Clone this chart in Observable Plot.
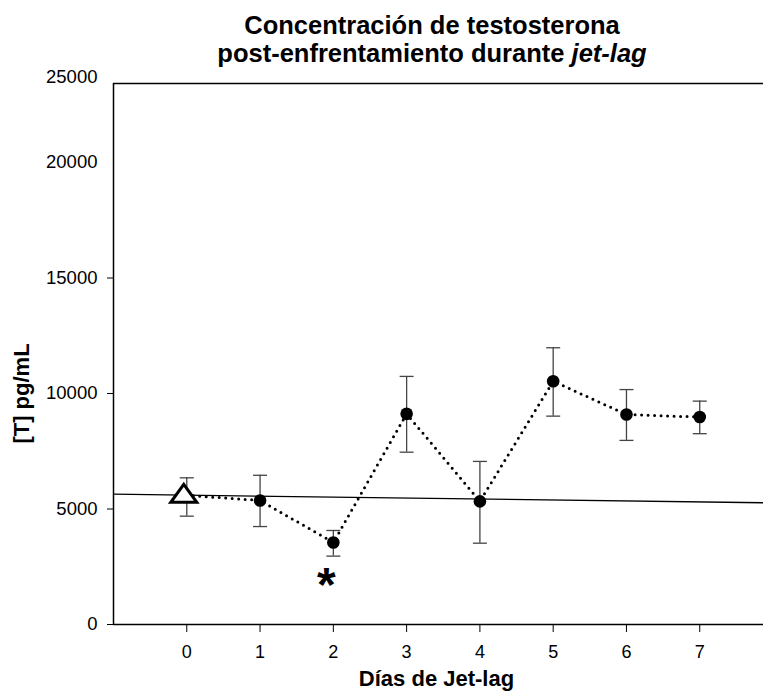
<!DOCTYPE html>
<html><head><meta charset="utf-8">
<script src="https://cdn.jsdelivr.net/npm/d3@7"></script>
<script src="https://cdn.jsdelivr.net/npm/@observablehq/plot@0.6"></script>
<style>
body{margin:0;background:#fff;overflow:hidden;font-family:"Liberation Sans",Arial,sans-serif}
#wrap{position:relative;width:763px;height:692px}
#title{position:absolute;left:97px;width:670px;top:11px;text-align:center;font-weight:bold;font-size:25.5px;line-height:28px;color:#000;z-index:2}
#chart{position:absolute;left:0;top:0}
#chart g[aria-label="y-axis tick label"]{font-size:18.5px !important}
#chart g[aria-label="x-axis tick label"]{font-size:18px !important}
</style></head><body>
<div id="wrap"><div id="title">Concentración de testosterona<br>post-enfrentamiento durante <i>jet-lag</i></div><div id="chart"></div></div>
<script>
const days = [0, 1, 2, 3, 4, 5, 6, 7];
const means = [5590, 5370, 3550, 9120, 5330, 10530, 9090, 8980];
const upper = [6350, 6460, 4070, 10740, 7060, 11980, 10170, 9670];
const lower = [4690, 4240, 2960, 7460, 3520, 9020, 7970, 8260];
const regX = [-1, 7.87];
const regY = [5640, 5270];
const xTicks = [0, 1, 2, 3, 4, 5, 6, 7];
const yTicks = [0, 5000, 10000, 15000];
const yExtraTickValues = [20000, 23700];
const yExtraTickLabels = ["20000", "25000"];
const sigDays = [2];
const sigValues = [1990];
const sigLabels = ["*"];
const xDomain = [-1, 7.87];
const yDomain = [0, 23420];
const yLabelAt = [{v: 10000, label: "[T] pg/mL"}];

const data = days.map((d, i) => ({day: d, mean: means[i], hi: upper[i], lo: lower[i]}));
const reg = regX.map((x, i) => ({x, y: regY[i]}));
const extra = yExtraTickValues.map((v, i) => ({v, label: yExtraTickLabels[i]}));
const sig = sigDays.map((d, i) => ({day: d, v: sigValues[i], label: sigLabels[i]}));

const capSymbol = {
  draw(ctx, size) {
    const r = Math.sqrt(size / Math.PI);
    ctx.moveTo(-r, 0);
    ctx.lineTo(r, 0);
  }
};
// wide open triangle, like the reference's control marker
const wideTriangle = {
  draw(ctx, size) {
    const r = Math.sqrt(size / Math.PI);
    ctx.moveTo(0, -1.1 * r);
    ctx.lineTo(1.3 * r, 0.7 * r);
    ctx.lineTo(-1.3 * r, 0.7 * r);
    ctx.closePath();
  }
};

const chart = Plot.plot({
  width: 763,
  height: 692,
  marginLeft: 113,
  marginRight: 0,
  marginTop: 83,
  marginBottom: 68,
  style: {fontFamily: "'Liberation Sans', Arial, sans-serif", fontSize: "18px", color: "#000", background: "transparent"},
  x: {domain: xDomain},
  y: {domain: yDomain},
  marks: [
    Plot.line(reg, {x: "x", y: "y", stroke: "#000", strokeWidth: 1.3}),
    Plot.ruleX(data, {x: "day", y1: "lo", y2: "hi", stroke: "#444", strokeWidth: 1.3}),
    Plot.dot(data, {x: "day", y: "hi", symbol: capSymbol, r: 7, stroke: "#444", strokeWidth: 1.3, fill: "none"}),
    Plot.dot(data, {x: "day", y: "lo", symbol: capSymbol, r: 7, stroke: "#444", strokeWidth: 1.3, fill: "none"}),
    Plot.line(data, {x: "day", y: "mean", stroke: "#000", strokeWidth: 3, strokeDasharray: "0,6.5", strokeLinecap: "round"}),
    Plot.dot(data.filter(d => d.day > 0), {x: "day", y: "mean", r: 6.3, fill: "#000", stroke: "none"}),
    Plot.dot(data.filter(d => d.day === 0), {x: "day", y: "mean", symbol: wideTriangle, r: 10, dx: -3, fill: "#fff", stroke: "#000", strokeWidth: 3}),
    Plot.text(sig, {x: "day", y: "v", text: "label", fontSize: 48, fontWeight: "bold", dx: -7, dy: 7}),
    Plot.ruleX([xDomain[0]], {stroke: "#000", strokeWidth: 1.5}),
    Plot.ruleY([yDomain[0], yDomain[1]], {stroke: "#000", strokeWidth: 1.5}),
    Plot.axisX({ticks: xTicks, tickSize: 8, tickPadding: 13, fontSize: 18, label: null}),
    Plot.axisY({ticks: yTicks, tickSize: 6, tickPadding: 10, fontSize: 18.5, tickFormat: d3.format("d"), label: null}),
    Plot.text(extra, {frameAnchor: "left", y: "v", text: "label", textAnchor: "end", lineAnchor: "middle", dx: -16, fontSize: 18.5}),
    Plot.text(["Días de Jet-lag"], {frameAnchor: "bottom", textAnchor: "middle", lineAnchor: "middle", dx: -2, dy: 54, fontSize: 22, fontWeight: "bold"}),
    Plot.text(yLabelAt, {frameAnchor: "left", y: "v", text: "label", textAnchor: "middle", lineAnchor: "middle", rotate: -90, dx: -92, fontSize: 22, fontWeight: "bold"})
  ]
});
document.getElementById("chart").appendChild(chart);
</script>
</body></html>
